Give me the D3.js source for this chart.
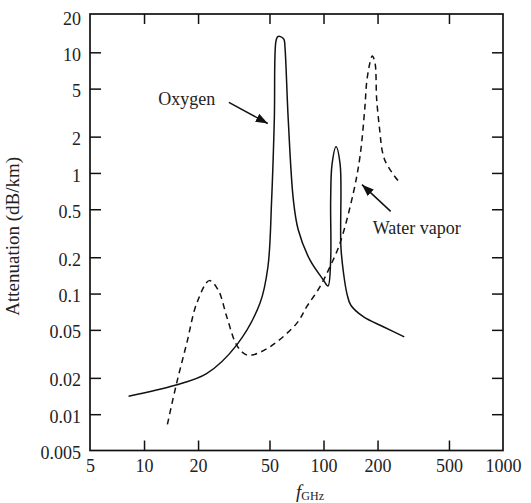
<!DOCTYPE html>
<html>
<head>
<meta charset="utf-8">
<script src="https://cdn.jsdelivr.net/npm/d3@7"></script>
<style>
body { margin: 0; background: #fff; }
svg { display: block; }
</style>
</head>
<body>
<div id="chart"></div>
<script>
// axis ticks
var xTickValues = [5, 10, 20, 50, 100, 200, 500, 1000];
var xTickLabels = ["5", "10", "20", "50", "100", "200", "500", "1000"];
var yTickValues = [0.005, 0.01, 0.02, 0.05, 0.1, 0.2, 0.5, 1, 2, 5, 10, 20];
var yTickLabels = ["0.005", "0.01", "0.02", "0.05", "0.1", "0.2", "0.5", "1", "2", "5", "10", "20"];

// oxygen curve (GHz, dB/km)
var oxygenFreq = [8.2, 14.9, 22.3, 32.8, 44.3, 49.0, 51.4, 53.2, 54.3, 55.6, 57.6, 60.2, 61.0, 63.6, 67.9, 72.3, 84.0, 99.7, 105.9, 109.6, 109.6, 111.5, 117.4, 123.8, 125.0, 129.5, 135.0, 142.0, 166.6, 215.3, 281.8];
var oxygenAtten = [0.0141, 0.0174, 0.0217, 0.0374, 0.0835, 0.166, 0.60, 2.77, 12.3, 13.5, 13.5, 12.8, 11.0, 2.77, 0.60, 0.338, 0.190, 0.130, 0.1156, 0.19, 0.60, 1.17, 1.65, 1.17, 0.244, 0.145, 0.100, 0.080, 0.0643, 0.0531, 0.0438];

// water vapor curve (GHz, dB/km)
var waterFreq = [13.5, 15.1, 17.3, 19.7, 23.1, 25.9, 28.9, 32.8, 36.5, 39.8, 50.3, 70.9, 80.6, 95.6, 108.7, 123.6, 146.6, 159.7, 170.2, 173.9, 181.5, 187, 193.5, 197.8, 206.4, 211.7, 220.1, 234.7, 250, 266.7];
var waterAtten = [0.00824, 0.0174, 0.0388, 0.0836, 0.128, 0.107, 0.0643, 0.0374, 0.0315, 0.0309, 0.0362, 0.0566, 0.0778, 0.114, 0.167, 0.262, 0.682, 1.37, 3.58, 5.60, 8.21, 9.32, 8.21, 4.07, 2.15, 1.56, 1.265, 1.065, 0.931, 0.826];

var svgWidth = 531;
var svgHeight = 503;
var font = "'Liberation Serif', 'Times New Roman', serif";

var svg = d3.select("#chart")
            .append("svg")
            .attr("width", svgWidth)
            .attr("height", svgHeight);

var xScale = d3.scaleLog()
               .domain([5, 1000])
               .range([90, 503]);
var yScale = d3.scaleLog()
               .domain([0.005, 20])
               .range([450.5, 16]);

var plotLeft = xScale(5), plotRight = xScale(1000);
var plotTop = yScale(20) - 2, plotBottom = yScale(0.005);

svg.append("defs").append("marker")
   .attr("id", "arrow")
   .attr("markerUnits", "userSpaceOnUse")
   .attr("markerWidth", 13)
   .attr("markerHeight", 10)
   .attr("refX", 12)
   .attr("refY", 4.5)
   .attr("orient", "auto")
   .append("path")
   .attr("d", "M0,0 L12,4.5 L0,9 Z")
   .attr("fill", "#111");

// axes, ticks point inward on all four sides
function styleAxis(g, hideEnds) {
    g.select(".domain").remove();
    g.selectAll(".tick line").attr("stroke", "#111").attr("stroke-width", 1.5);
    g.selectAll(".tick text").attr("fill", "#222").style("font-family", font).style("font-size", "18px");
    if (hideEnds) {
        g.selectAll(".tick").filter(function(d, i, n) { return i === 0 || i === n.length - 1; })
         .select("line").remove();
    }
}

var xAxis = d3.axisBottom(xScale)
              .tickValues(xTickValues)
              .tickFormat(function(d, i) { return xTickLabels[i]; })
              .tickSizeInner(-10).tickSizeOuter(0).tickPadding(9);
svg.append("g").attr("transform", `translate(0, ${plotBottom})`).call(xAxis).call(styleAxis, true);

var xAxisTop = d3.axisTop(xScale).tickValues(xTickValues).tickFormat("").tickSizeInner(-10).tickSizeOuter(0);
svg.append("g").attr("transform", `translate(0, ${plotTop})`).call(xAxisTop).call(styleAxis, true);

var yAxis = d3.axisLeft(yScale)
              .tickValues(yTickValues)
              .tickFormat(function(d, i) { return yTickLabels[i]; })
              .tickSizeInner(-11).tickSizeOuter(0).tickPadding(9);
var yg = svg.append("g").attr("transform", `translate(${plotLeft}, 0)`).call(yAxis).call(styleAxis, true);
yg.selectAll(".tick text").attr("dy", "0.45em");

var yAxisRight = d3.axisRight(yScale).tickValues(yTickValues).tickFormat("").tickSizeInner(-11).tickSizeOuter(0);
svg.append("g").attr("transform", `translate(${plotRight}, 0)`).call(yAxisRight).call(styleAxis, true);

svg.append("rect")
   .attr("x", plotLeft)
   .attr("y", plotTop)
   .attr("width", plotRight - plotLeft)
   .attr("height", plotBottom - plotTop)
   .attr("fill", "none")
   .attr("stroke", "#111")
   .attr("stroke-width", 1.7);

// curves
var line = d3.line()
             .x(d => xScale(d[0]))
             .y(d => yScale(d[1]))
             .curve(d3.curveCatmullRom.alpha(0.5));

svg.append("path")
   .attr("d", line(d3.zip(oxygenFreq, oxygenAtten)))
   .attr("fill", "none")
   .attr("stroke", "#111")
   .attr("stroke-width", 1.5);

svg.append("path")
   .attr("d", line(d3.zip(waterFreq, waterAtten)))
   .attr("fill", "none")
   .attr("stroke", "#111")
   .attr("stroke-width", 1.5)
   .attr("stroke-dasharray", "6,4.5");

// annotations (placed in data units)
function note(label, tx, ty, from, to) {
    svg.append("text")
       .attr("x", xScale(tx))
       .attr("y", yScale(ty))
       .style("font-family", font)
       .style("font-size", "18px")
       .attr("fill", "#222")
       .text(label);
    svg.append("line")
       .attr("x1", xScale(from[0])).attr("y1", yScale(from[1]))
       .attr("x2", xScale(to[0])).attr("y2", yScale(to[1]))
       .attr("stroke", "#111")
       .attr("stroke-width", 1.5)
       .attr("marker-end", "url(#arrow)");
}
note("Oxygen", 12.0, 3.63, [29.7, 3.85], [48.9, 2.57]);
note("Water vapor", 188, 0.313, [236.7, 0.48], [163.8, 0.80]);

// axis titles
svg.append("text")
   .attr("transform", `translate(18.5, ${(plotTop + plotBottom) / 2 + 4}) rotate(-90)`)
   .style("text-anchor", "middle")
   .style("font-family", font)
   .style("font-size", "19px")
   .attr("fill", "#222")
   .text("Attenuation (dB/km)");

var xTitle = svg.append("text")
   .attr("x", (plotLeft + plotRight) / 2 + 13.5)
   .attr("y", 498)
   .style("text-anchor", "middle")
   .style("font-family", font)
   .attr("fill", "#222");
xTitle.append("tspan").style("font-style", "italic").style("font-size", "19px").text("f");
xTitle.append("tspan").attr("dy", 2).style("font-size", "12px").text("GHz");
</script>
</body>
</html>
